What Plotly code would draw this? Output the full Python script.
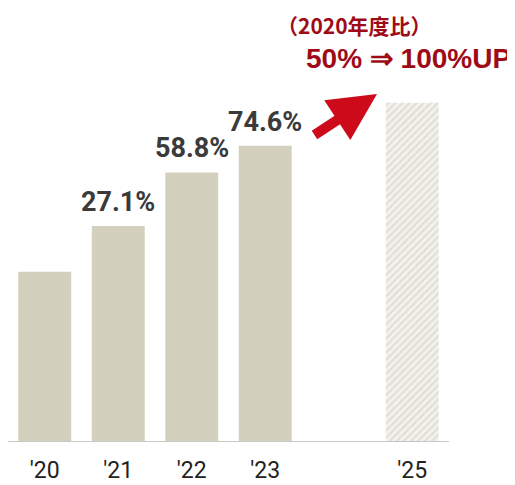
import plotly.graph_objects as go

# ---- data ----
categories = ["'20", "'21", "'22", "'23", "'24", "'25"]
index_values = [100, 127.1, 158.8, 174.6, None, 200]   # 2020 = 100
growth_labels = ["", "27.1%", "58.8%", "74.6%", "", ""]
tick_labels = ["'20", "'21", "'22", "'23", "", "'25"]
title_line1 = "（2020年度比）"
title_line2 = "50% ⇒ 100%UP"

OFF = 8                       # default page body margin
W, H = 515 - OFF, 485 - OFF
L, R, T, B = 0, 66, 44, 44

actual_x = categories[:4]
actual_y = index_values[:4]
target_x = [categories[5]]
target_y = [index_values[5]]

fig = go.Figure()
fig.add_trace(go.Bar(
    x=actual_x, y=actual_y, width=0.72,
    marker=dict(color="#d3d0bd", line=dict(width=0)),
    hoverinfo="skip",
))
fig.add_trace(go.Bar(
    x=target_x, y=target_y, width=0.72,
    marker=dict(color="#f3f2ec", line=dict(width=0),
                pattern=dict(shape="/", fgcolor="#cfccbd", bgcolor="#f3f2ec",
                             size=5, solidity=0.45)),
    hoverinfo="skip",
))

annotations = []
for c, v, t in zip(categories, index_values, growth_labels):
    if t:
        annotations.append(dict(
            x=c, y=v, xref="x", yref="y", text=t, showarrow=False,
            yanchor="bottom", yshift=6,
            font=dict(family="Roboto, sans-serif",
                      size=27, color="#3a3a3a", weight="bold"),
        ))

pw, ph = W - L - R, H - T - B
def px(xp): return (xp - OFF - L) / pw
def py(yp): return (H - B - (yp - OFF)) / ph

annotations.append(dict(
    x=px(354), y=py(OFF), xref="paper", yref="paper", text="<b>" + title_line1 + "</b>",
    showarrow=False, xanchor="center", yanchor="top",
    font=dict(family="Noto Sans CJK JP, sans-serif", size=21, color="#9e0b17"),
))
annotations.append(dict(
    x=px(513), y=py(59), xref="paper", yref="paper", text="<b>" + title_line2 + "</b>",
    showarrow=False, xanchor="right", yanchor="middle",
    font=dict(family="Liberation Sans, Arial, sans-serif", size=28, color="#9e0b17"),
))
# red arrow
annotations.append(dict(
    x=px(377), y=py(94), xref="paper", yref="paper", ax=-64, ay=42,
    axref="pixel", ayref="pixel", text="", showarrow=True,
    arrowhead=2, arrowsize=0.95, arrowwidth=10, arrowcolor="#cc0a1a",
))

fig.update_layout(
    width=W, height=H,
    margin=dict(l=L, r=R, t=T, b=B, autoexpand=False),
    paper_bgcolor="white", plot_bgcolor="white",
    showlegend=False, barmode="overlay",
    annotations=annotations,
    xaxis=dict(
        type="category", categoryorder="array", categoryarray=categories,
        tickmode="array", tickvals=categories, ticktext=tick_labels,
        range=[-0.5, 5.5], showgrid=False, zeroline=False, automargin=False,
        showline=True, linecolor="#c8c8c8", linewidth=1,
        ticks="outside", ticklen=8, tickcolor="rgba(0,0,0,0)",
        tickfont=dict(family="Roboto, sans-serif", size=23, color="#222222"),
    ),
    yaxis=dict(range=[0, 230], visible=False, showgrid=False, zeroline=False,
               automargin=False),
)

fig.write_html("out.html")
